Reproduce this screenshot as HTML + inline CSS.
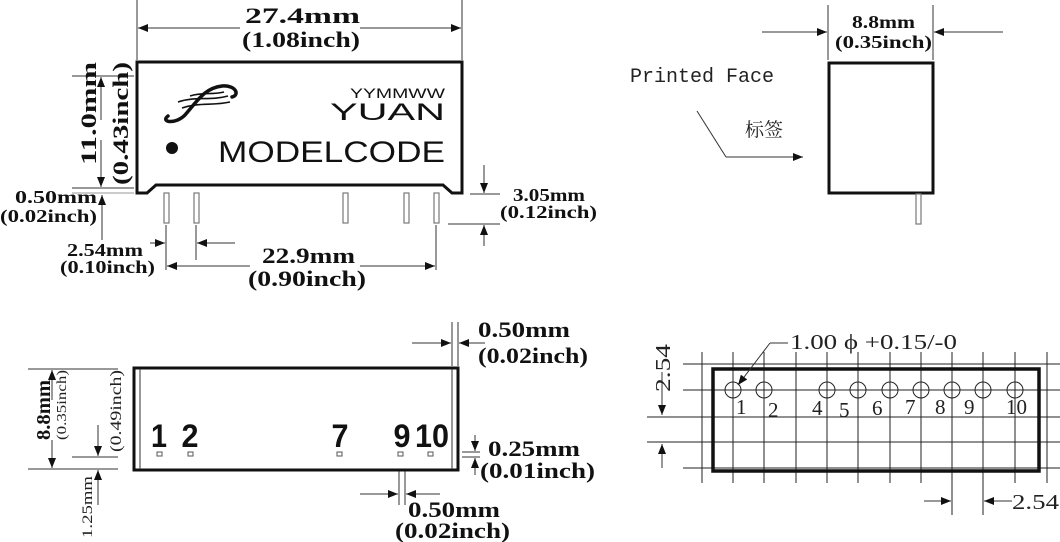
<!DOCTYPE html>
<html><head><meta charset="utf-8"><style>
html,body{margin:0;padding:0;background:#fff}
svg{display:block}
.b{font-family:"Liberation Serif",serif;font-weight:bold;fill:#111}
.s{font-family:"Liberation Sans",sans-serif;fill:#111}
.r{font-family:"Liberation Serif",serif;fill:#222}
</style></head><body>
<svg width="1060" height="542" viewBox="0 0 1060 542" xmlns="http://www.w3.org/2000/svg">
<defs>
<marker id="a" markerWidth="10" markerHeight="8" refX="10" refY="4" orient="auto" markerUnits="userSpaceOnUse"><path d="M0,0 L10,4 L0,8 z" fill="#111"/></marker>
</defs>
<g stroke="#333" stroke-width="1" fill="none">
<line x1="137" y1="0" x2="137" y2="60"/><line x1="462" y1="0" x2="462" y2="60"/>
<line x1="240" y1="28" x2="138" y2="28" marker-end="url(#a)"/><line x1="360" y1="28" x2="461" y2="28" marker-end="url(#a)"/>
<line x1="72" y1="76" x2="134" y2="76"/>
<line x1="72" y1="188" x2="134" y2="188"/><line x1="72" y1="193" x2="134" y2="193" stroke="#999"/>
<line x1="101" y1="120" x2="101" y2="77" marker-end="url(#a)"/><line x1="101" y1="140" x2="101" y2="187" marker-end="url(#a)"/>
<line x1="102" y1="240" x2="102" y2="195" marker-end="url(#a)"/>
<line x1="166" y1="225" x2="166" y2="270"/><line x1="196" y1="225" x2="196" y2="260"/><line x1="436" y1="225" x2="436" y2="270"/>
<line x1="150" y1="243" x2="165" y2="243" marker-end="url(#a)"/><line x1="235" y1="243" x2="197" y2="243" marker-end="url(#a)"/>
<line x1="250" y1="266" x2="167" y2="266" marker-end="url(#a)"/><line x1="360" y1="266" x2="435" y2="266" marker-end="url(#a)"/>
<line x1="470" y1="194" x2="500" y2="194"/><line x1="448" y1="224" x2="500" y2="224"/>
<line x1="484" y1="165" x2="484" y2="193" marker-end="url(#a)"/><line x1="484" y1="246" x2="484" y2="225" marker-end="url(#a)"/>
<line x1="828" y1="5" x2="828" y2="60"/><line x1="933" y1="5" x2="933" y2="60"/>
<line x1="762" y1="32" x2="827" y2="32" marker-end="url(#a)"/><line x1="1003" y1="32" x2="934" y2="32" marker-end="url(#a)"/>
<line x1="697" y1="111" x2="726" y2="157"/><line x1="726" y1="157" x2="803" y2="157" marker-end="url(#a)"/>
<line x1="452" y1="322" x2="452" y2="366"/><line x1="458" y1="322" x2="458" y2="366"/>
<line x1="412" y1="343" x2="451" y2="343" marker-end="url(#a)"/><line x1="485" y1="343" x2="459" y2="343" marker-end="url(#a)"/>
<line x1="28" y1="369" x2="118" y2="369"/><line x1="28" y1="469" x2="118" y2="469"/><line x1="72" y1="457" x2="118" y2="457"/>
<line x1="52" y1="400" x2="52" y2="370" marker-end="url(#a)"/><line x1="52" y1="440" x2="52" y2="468" marker-end="url(#a)"/>
<line x1="98" y1="425" x2="98" y2="456" marker-end="url(#a)"/><line x1="98" y1="505" x2="98" y2="470" marker-end="url(#a)"/>
<line x1="462" y1="452" x2="480" y2="452"/><line x1="462" y1="457" x2="480" y2="457"/>
<line x1="475" y1="435" x2="475" y2="451" marker-end="url(#a)"/><line x1="475" y1="475" x2="475" y2="458" marker-end="url(#a)"/>
<line x1="399" y1="457" x2="399" y2="505"/><line x1="405" y1="457" x2="405" y2="505"/>
<line x1="360" y1="494" x2="398" y2="494" marker-end="url(#a)"/><line x1="440" y1="494" x2="406" y2="494" marker-end="url(#a)"/>
</g>
<path d="M137,62 H462 V193 H452 L443,185 H156 L147,193 H137 Z" fill="#fff" stroke="#111" stroke-width="3"/>
<g fill="#fff" stroke="#777" stroke-width="1.2">
<rect x="164" y="193" width="5" height="30"/><rect x="194" y="193" width="5" height="30"/><rect x="343" y="193" width="5" height="30"/><rect x="404" y="193" width="5" height="30"/><rect x="434" y="193" width="5" height="30"/>
</g>
<g fill="none" stroke="#111" stroke-width="3.5" stroke-linecap="round">
<path d="M168,116 C160,122 175,125 185,115 C198,100 205,88 222,86 C236,85 240,95 232,97"/>
</g>
<g fill="none" stroke="#111" stroke-width="1.6"><path d="M178,102 C195,96 210,101 228,96"/><path d="M182,108 C200,102 212,106 230,102"/><path d="M190,96 C202,92 212,95 224,92"/></g>
<circle cx="172" cy="148" r="6" fill="#111"/>
<text x="350" y="98" class="s" font-size="14" textLength="95" lengthAdjust="spacingAndGlyphs">YYMMWW</text>
<text x="330" y="120" class="s" font-size="24" textLength="115" lengthAdjust="spacingAndGlyphs">YUAN</text>
<text x="218" y="162" class="s" font-size="30" textLength="227" lengthAdjust="spacingAndGlyphs">MODELCODE</text>
<g class="b" font-size="22">
<text x="245" y="23" textLength="115" lengthAdjust="spacingAndGlyphs">27.4mm</text>
<text x="242" y="47" textLength="118" lengthAdjust="spacingAndGlyphs">(1.08inch)</text>
<text transform="translate(96,165) rotate(-90)" textLength="103" lengthAdjust="spacingAndGlyphs">11.0mm</text>
<text transform="translate(128,185) rotate(-90)" textLength="123" lengthAdjust="spacingAndGlyphs">(0.43inch)</text>
<text x="262" y="263" textLength="93" lengthAdjust="spacingAndGlyphs">22.9mm</text>
<text x="248" y="286" textLength="118" lengthAdjust="spacingAndGlyphs">(0.90inch)</text>
<text x="478" y="337" textLength="92" lengthAdjust="spacingAndGlyphs">0.50mm</text>
<text x="478" y="363" textLength="110" lengthAdjust="spacingAndGlyphs">(0.02inch)</text>
<text x="488" y="456" textLength="92" lengthAdjust="spacingAndGlyphs">0.25mm</text>
<text x="480" y="478" textLength="115" lengthAdjust="spacingAndGlyphs">(0.01inch)</text>
<text x="408" y="517" textLength="92" lengthAdjust="spacingAndGlyphs">0.50mm</text>
<text x="395" y="538" textLength="115" lengthAdjust="spacingAndGlyphs">(0.02inch)</text>
</g>
<g class="b" font-size="18">
<text x="15" y="203" textLength="82" lengthAdjust="spacingAndGlyphs">0.50mm</text>
<text x="0" y="222" textLength="97" lengthAdjust="spacingAndGlyphs">(0.02inch)</text>
<text x="67" y="256" textLength="76" lengthAdjust="spacingAndGlyphs">2.54mm</text>
<text x="60" y="273" textLength="95" lengthAdjust="spacingAndGlyphs">(0.10inch)</text>
<text x="513" y="201" textLength="72" lengthAdjust="spacingAndGlyphs">3.05mm</text>
<text x="500" y="218" textLength="97" lengthAdjust="spacingAndGlyphs">(0.12inch)</text>
<text x="852" y="28" textLength="63" lengthAdjust="spacingAndGlyphs">8.8mm</text>
<text x="835" y="48" textLength="97" lengthAdjust="spacingAndGlyphs">(0.35inch)</text>
</g>
<rect x="829" y="63" width="104" height="130" fill="#fff" stroke="#111" stroke-width="3"/>
<rect x="916" y="194" width="5" height="30" fill="#fff" stroke="#777" stroke-width="1.2"/>
<text x="630" y="82" class="r" font-size="20" style="font-family:'Liberation Mono',monospace">Printed Face</text>
<text x="745" y="136" class="r" font-size="19" style="font-family:'Liberation Serif','Noto Serif CJK SC',serif">标签</text>
<rect x="134" y="368" width="324" height="102" fill="#fff" stroke="#111" stroke-width="3"/>
<line x1="140" y1="369" x2="140" y2="469" stroke="#333"/><line x1="452" y1="369" x2="452" y2="469" stroke="#333"/>
<g fill="#fff" stroke="#555" stroke-width="1"><rect x="157" y="452" width="5" height="4"/><rect x="188" y="452" width="5" height="4"/><rect x="337" y="452" width="5" height="4"/><rect x="398" y="452" width="5" height="4"/><rect x="428" y="452" width="5" height="4"/></g>
<g class="s" font-size="32" text-anchor="middle" font-weight="bold"><text x="159" y="447" textLength="16" lengthAdjust="spacingAndGlyphs">1</text><text x="190" y="447" textLength="17" lengthAdjust="spacingAndGlyphs">2</text><text x="340" y="447" textLength="17" lengthAdjust="spacingAndGlyphs">7</text><text x="402" y="447" textLength="17" lengthAdjust="spacingAndGlyphs">9</text><text x="432" y="447" textLength="34" lengthAdjust="spacingAndGlyphs">10</text></g>
<text transform="translate(50,440) rotate(-90)" class="b" font-size="20" textLength="60" lengthAdjust="spacingAndGlyphs">8.8mm</text>
<text transform="translate(66,440) rotate(-90)" class="r" font-size="14" textLength="70" lengthAdjust="spacingAndGlyphs">(0.35inch)</text>
<text transform="translate(121,452) rotate(-90)" class="r" font-size="16" textLength="82" lengthAdjust="spacingAndGlyphs">(0.49inch)</text>
<text transform="translate(92,538) rotate(-90)" class="r" font-size="15" textLength="62" lengthAdjust="spacingAndGlyphs">1.25mm</text>
<g stroke="#222" stroke-width="1">
<line x1="702" y1="352" x2="702" y2="483"/><line x1="733" y1="352" x2="733" y2="483"/><line x1="764" y1="352" x2="764" y2="483"/><line x1="796" y1="352" x2="796" y2="483"/><line x1="827" y1="352" x2="827" y2="483"/><line x1="858" y1="352" x2="858" y2="483"/><line x1="890" y1="352" x2="890" y2="483"/><line x1="921" y1="352" x2="921" y2="483"/><line x1="952" y1="352" x2="952" y2="515"/><line x1="983" y1="352" x2="983" y2="515"/><line x1="1015" y1="352" x2="1015" y2="483"/><line x1="1047" y1="352" x2="1047" y2="483"/>
<line x1="683" y1="364" x2="1060" y2="364"/><line x1="683" y1="390" x2="1060" y2="390"/><line x1="647" y1="417" x2="1060" y2="417"/><line x1="647" y1="442" x2="1060" y2="442"/><line x1="683" y1="468" x2="1060" y2="468"/>
</g>
<rect x="713" y="369" width="326" height="102" fill="none" stroke="#111" stroke-width="3.5"/>
<g fill="none" stroke="#222" stroke-width="1"><circle cx="733" cy="390" r="8"/><circle cx="764" cy="390" r="8"/><circle cx="827" cy="390" r="8"/><circle cx="858" cy="390" r="8"/><circle cx="890" cy="390" r="8"/><circle cx="921" cy="390" r="8"/><circle cx="952" cy="390" r="8"/><circle cx="983" cy="390" r="8"/><circle cx="1015" cy="390" r="8"/></g>
<g class="r" font-size="21"><text x="736" y="414">1</text><text x="768" y="417">2</text><text x="812" y="415">4</text><text x="839" y="417">5</text><text x="872" y="415">6</text><text x="905" y="414">7</text><text x="935" y="414">8</text><text x="964" y="414">9</text><text x="1006" y="414">10</text></g>
<g stroke="#333" fill="none"><line x1="788" y1="343" x2="770" y2="343"/><line x1="770" y1="343" x2="738" y2="385" marker-end="url(#a)"/>
<line x1="662" y1="372" x2="662" y2="415" marker-end="url(#a)"/><line x1="662" y1="468" x2="662" y2="444" marker-end="url(#a)"/>
<line x1="924" y1="501" x2="951" y2="501" marker-end="url(#a)"/><line x1="1012" y1="501" x2="984" y2="501" marker-end="url(#a)"/></g>
<text x="790" y="349" class="r" font-size="21" textLength="167" lengthAdjust="spacingAndGlyphs">1.00 ϕ +0.15/-0</text>
<text transform="translate(670,392) rotate(-90)" class="r" font-size="21" textLength="48" lengthAdjust="spacingAndGlyphs">2.54</text>
<text x="1012" y="509" class="r" font-size="21" textLength="47" lengthAdjust="spacingAndGlyphs">2.54</text>
</svg>
</body></html>
